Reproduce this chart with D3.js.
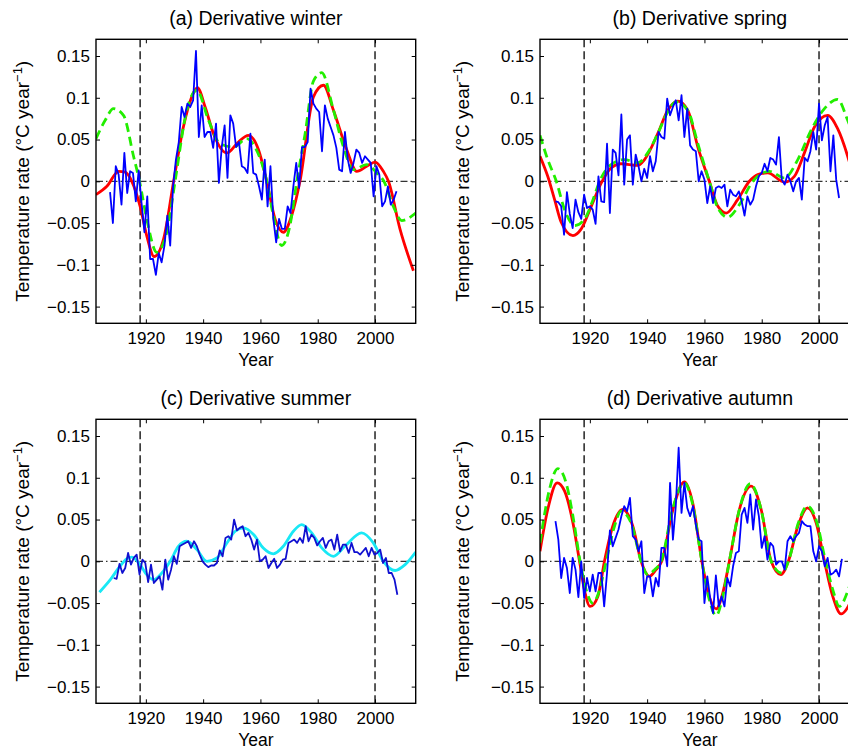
<!DOCTYPE html>
<html>
<head>
<meta charset="utf-8">
<script src="https://cdn.jsdelivr.net/npm/d3@7"></script>
<style>
  body { margin: 0; background: #fff; }
  svg { display: block; font-family: Helvetica, Arial, "Liberation Sans", sans-serif; }
</style>
</head>
<body>
<svg id="chart"></svg>
<script>
// ---- data ----
var xTicks = [1920, 1940, 1960, 1980, 2000];
var yTicks = [-0.15, -0.1, -0.05, 0, 0.05, 0.1, 0.15];
var markYears = [1918, 2000];

// (a) winter
var winterStart = 1907.5;
var winterObs = [
  -0.013, -0.050, 0.018, 0.008, -0.028, 0.034, -0.014, 0.012, 0.010, -0.024,
  0.013, -0.026, -0.061, -0.018, -0.093, -0.093, -0.112, -0.086, -0.097, -0.077,
  -0.041, -0.077, -0.006, 0.026, 0.047, 0.089, 0.077, 0.093, 0.089, 0.097,
  0.156, 0.053, 0.091, 0.053, 0.059, 0.059, 0.040, 0.069, -0.002, 0.041,
  0.067, 0.004, 0.079, 0.069, 0.041, 0.047, 0.018, 0.016, 0.010, 0.057,
  0.010, 0.008, -0.006, -0.022, 0.026, -0.030, 0.018, -0.045, -0.073, -0.045,
  -0.057, -0.057, -0.030, -0.038, -0.006, 0.022, -0.008, 0.041, 0.041, 0.047,
  0.111, 0.093, 0.087, 0.083, 0.036, 0.091, 0.075, 0.065, 0.055, 0.040,
  0.014, 0.012, 0.059, 0.026, 0.010, 0.022, 0.038, 0.034, 0.022, 0.030,
  0.026, 0.022, -0.018, 0.018, 0.008, -0.030, -0.024, -0.006, -0.028, -0.022, -0.012
];
var winterRedYear = [1902.6, 1906.4, 1910.5, 1912.8, 1915.1, 1918.0, 1920.3, 1922.9, 1926.2, 1929.7,
  1933.1, 1936.0, 1938.0, 1940.7, 1943.6, 1948.3, 1952.3, 1955.8, 1959.3, 1962.2,
  1965.1, 1968.0, 1970.9, 1973.8, 1978.5, 1982.0, 1985.5, 1990.1, 1993.6, 1997.1,
  2000.0, 2002.9, 2004.7, 2008.7, 2013.4];
var winterRedRate = [-0.016, -0.006, 0.012, 0.011, 0.000, -0.030, -0.065, -0.090, -0.069, 0.000,
  0.065, 0.101, 0.112, 0.089, 0.057, 0.034, 0.047, 0.055, 0.038, 0.000,
  -0.045, -0.061, -0.041, 0.000, 0.101, 0.115, 0.085, 0.038, 0.012, 0.018,
  0.023, 0.012, 0.000, -0.057, -0.107];
var winterGreenYear = [1902.6, 1905.8, 1908.7, 1912.2, 1915.7, 1917.8, 1920.3, 1923.8, 1927.3, 1930.2,
  1934.3, 1937.8, 1941.9, 1945.9, 1950.6, 1955.2, 1958.1, 1962.2, 1964.5, 1967.4,
  1970.3, 1972.7, 1975.6, 1978.5, 1981.4, 1985.5, 1989.0, 1992.4, 1997.1, 2000.6,
  2003.1, 2006.4, 2009.3, 2014.2];
var winterGreenRate = [0.051, 0.073, 0.087, 0.079, 0.030, 0.000, -0.045, -0.085, -0.061, 0.000,
  0.085, 0.109, 0.073, 0.045, 0.041, 0.051, 0.041, 0.000, -0.041, -0.077,
  -0.053, 0.000, 0.057, 0.120, 0.130, 0.085, 0.041, 0.014, 0.020, 0.010,
  0.000, -0.030, -0.047, -0.038];

// (b) spring
var springStart = 1908;
var springObs = [
  -0.024, -0.025, -0.030, -0.064, -0.013, -0.039, -0.056, -0.022, -0.037, -0.045,
  -0.016, -0.032, -0.030, -0.034, -0.051, 0.006, -0.024, -0.025, 0.045, -0.038,
  0.038, 0.034, 0.007, 0.080, -0.004, 0.050, 0.055, -0.004, 0.032, 0.018,
  0.000, 0.015, 0.004, 0.030, 0.012, 0.024, 0.059, 0.053, 0.051, 0.099,
  0.079, 0.089, 0.097, 0.073, 0.103, 0.053, 0.087, 0.043, 0.038, 0.036,
  0.000, 0.012, 0.002, -0.026, -0.006, -0.026, -0.008, -0.006, -0.008, -0.004,
  -0.030, -0.010, -0.016, -0.018, -0.012, -0.024, -0.041, -0.018, -0.028, -0.022,
  -0.006, 0.006, 0.010, 0.021, 0.012, 0.028, 0.026, 0.020, 0.053, 0.002,
  -0.004, 0.008, 0.000, -0.012, 0.000, 0.004, -0.022, 0.028, 0.024, 0.036,
  0.059, 0.038, 0.093, 0.049, 0.067, 0.077, 0.012, 0.055, 0.002, -0.020
];
var springRedYear = [1902.6, 1905.3, 1907.7, 1910.0, 1914.1, 1917.0, 1920.5, 1924.0, 1927.4, 1930.9,
  1936.7, 1939.1, 1943.7, 1947.2, 1950.7, 1954.2, 1957.7, 1961.7, 1964.7, 1967.6,
  1971.6, 1975.7, 1978.6, 1982.1, 1987.9, 1991.4, 1994.9, 1998.4, 2003.0, 2006.5,
  2010.0, 2011.5];
var springRedRate = [0.030, 0.006, -0.022, -0.049, -0.065, -0.057, -0.030, -0.002, 0.016, 0.021,
  0.019, 0.026, 0.057, 0.085, 0.096, 0.085, 0.041, 0.000, -0.030, -0.038,
  -0.022, 0.000, 0.008, 0.010, -0.001, 0.006, 0.034, 0.065, 0.079, 0.063,
  0.030, 0.012];
var springGreenYear = [1902.6, 1905.3, 1908.3, 1911.2, 1914.7, 1918.2, 1921.1, 1923.4, 1927.4, 1932.1,
  1936.7, 1940.2, 1943.7, 1947.2, 1950.1, 1954.2, 1957.7, 1961.7, 1964.7, 1968.1,
  1972.2, 1976.9, 1982.7, 1987.9, 1992.6, 1997.2, 2001.9, 2006.5, 2010.0, 2011.5];
var springGreenRate = [0.055, 0.026, 0.000, -0.034, -0.053, -0.045, -0.022, 0.000, 0.020, 0.026,
  0.022, 0.034, 0.057, 0.083, 0.095, 0.085, 0.045, 0.000, -0.032, -0.043,
  -0.028, 0.000, 0.012, 0.004, 0.026, 0.061, 0.087, 0.098, 0.073, 0.060];

// (c) summer
var summerStart = 1908.8;
var summerObs = [
  -0.020, -0.021, -0.003, -0.014, -0.008, 0.010, -0.004, 0.004, 0.008, -0.016,
  0.002, -0.002, -0.025, -0.004, -0.026, -0.022, -0.018, -0.034, 0.002, -0.022,
  -0.010, 0.006, -0.003, 0.018, 0.020, 0.022, 0.024, 0.016, 0.024, 0.018,
  0.008, 0.000, -0.004, -0.007, -0.005, -0.005, -0.002, 0.013, 0.006, 0.028,
  0.030, 0.026, 0.050, 0.037, 0.040, 0.042, 0.030, 0.034, 0.026, 0.014,
  0.026, 0.000, 0.002, 0.006, -0.008, -0.002, 0.003, -0.008, -0.004, 0.002,
  0.003, 0.022, 0.024, 0.026, 0.022, 0.028, 0.022, 0.042, 0.024, 0.032,
  0.028, 0.019, 0.024, 0.028, 0.016, 0.024, 0.026, 0.014, 0.032, 0.012,
  0.020, 0.020, 0.010, 0.022, 0.011, 0.011, 0.008, 0.012, 0.016, 0.006,
  0.016, 0.008, 0.010, 0.014, -0.002, 0.004, -0.014, -0.014, -0.022, -0.040
];
var summerCyanYear = [1903.8, 1907.6, 1910.5, 1913.4, 1915.1, 1918.0, 1920.3, 1922.7, 1925.6, 1928.5,
  1931.4, 1934.3, 1937.8, 1941.3, 1944.8, 1948.3, 1951.2, 1954.1, 1957.6, 1961.0,
  1964.5, 1968.0, 1971.5, 1974.4, 1977.9, 1981.4, 1985.5, 1989.5, 1995.3, 1999.4,
  2002.9, 2007.0, 2010.5, 2014.2];
var summerCyanRate = [-0.037, -0.022, -0.008, 0.003, 0.005, -0.004, -0.016, -0.022, -0.014, 0.000,
  0.018, 0.024, 0.014, 0.000, 0.004, 0.022, 0.036, 0.040, 0.032, 0.016,
  0.009, 0.018, 0.036, 0.044, 0.034, 0.016, 0.006, 0.018, 0.034, 0.022,
  0.000, -0.011, -0.004, 0.011];

// (d) autumn
var autumnStart = 1908;
var autumnObs = [
  0.048, 0.026, -0.020, 0.004, -0.008, -0.038, 0.004, -0.010, -0.043, 0.000,
  -0.044, -0.020, -0.036, -0.016, -0.036, -0.014, -0.014, -0.054, -0.014, 0.037,
  0.018, 0.028, 0.038, 0.054, 0.066, 0.060, 0.076, 0.030, 0.026, 0.012,
  0.024, -0.038, -0.018, -0.018, -0.042, -0.020, -0.030, 0.016, 0.016, -0.006,
  0.094, 0.026, 0.066, 0.136, 0.058, 0.094, 0.064, 0.054, 0.066, 0.044,
  0.026, 0.024, -0.050, -0.018, -0.044, -0.062, -0.017, -0.054, -0.042, -0.054,
  -0.020, -0.030, -0.006, 0.010, 0.012, 0.056, 0.064, 0.046, 0.080, 0.038,
  0.074, 0.054, 0.016, 0.030, 0.002, 0.022, 0.018, -0.004, 0.000, 0.000,
  -0.010, 0.024, 0.030, 0.024, 0.030, 0.034, 0.048, 0.044, 0.042, 0.042,
  0.012, 0.000, 0.018, 0.012, -0.006, 0.004, -0.016, -0.014, -0.010, -0.018, 0.003
];
var autumnRedYear = [1902.6, 1905.3, 1908.6, 1911.2, 1914.1, 1916.4, 1918.1, 1920.1, 1922.8, 1925.1,
  1928.0, 1931.5, 1935.0, 1937.9, 1940.8, 1943.1, 1945.1, 1949.0, 1953.0, 1955.9,
  1959.1, 1961.7, 1964.1, 1966.4, 1968.7, 1972.2, 1976.3, 1979.8, 1983.3, 1986.7,
  1989.3, 1992.6, 1996.0, 1999.0, 2001.9, 2004.8, 2007.7, 2010.2, 2012.0];
var autumnRedRate = [0.012, 0.062, 0.094, 0.084, 0.046, 0.000, -0.034, -0.054, -0.042, 0.000,
  0.042, 0.062, 0.042, 0.000, -0.018, -0.010, 0.000, 0.062, 0.095, 0.070,
  0.000, -0.042, -0.057, -0.038, 0.000, 0.062, 0.090, 0.062, 0.000, -0.016,
  0.000, 0.042, 0.064, 0.046, 0.000, -0.042, -0.063, -0.054, -0.040];
var autumnGreenYear = [1902.6, 1905.9, 1908.8, 1911.7, 1914.1, 1916.6, 1918.7, 1921.0, 1923.4, 1925.7,
  1928.6, 1930.9, 1934.4, 1937.9, 1940.2, 1942.6, 1944.9, 1949.0, 1953.0, 1955.9,
  1959.1, 1961.7, 1964.1, 1966.4, 1968.7, 1972.2, 1976.0, 1979.8, 1983.3, 1987.0,
  1989.7, 1992.6, 1996.0, 1999.3, 2001.9, 2004.8, 2007.1, 2010.2, 2012.0];
var autumnGreenRate = [0.022, 0.086, 0.111, 0.094, 0.054, 0.000, -0.034, -0.050, -0.034, 0.000,
  0.042, 0.060, 0.046, 0.000, -0.016, -0.010, 0.000, 0.064, 0.094, 0.068,
  0.000, -0.046, -0.065, -0.042, 0.000, 0.062, 0.093, 0.062, 0.000, -0.014,
  0.004, 0.044, 0.066, 0.046, 0.006, -0.034, -0.054, -0.034, -0.015];

// ---- layout ----
var svgwidth = 848;
var svgheight = 753;
var panelW = 319.7;
var panelH = 284;

var svg = d3.select('#chart').attr('width', svgwidth).attr('height', svgheight);

var zip = function(xs, ys) {
  return xs.map(function(x, i) { return [x, ys[i]]; });
};
var series = function(start, vals) {
  return vals.map(function(v, i) { return [start + i, v]; });
};

var panels = [
  { key: 'a', title: '(a) Derivative winter', left: 96, top: 39.3, labelOff: 67,
    lines: [
      { pts: zip(winterRedYear, winterRedRate), color: '#ff0000', width: 2.8, curve: true },
      { pts: zip(winterGreenYear, winterGreenRate), color: '#22ee00', width: 2.8, dash: '9,5', curve: true },
      { pts: series(winterStart, winterObs), color: '#0000ff', width: 1.8 }
    ] },
  { key: 'b', title: '(b) Derivative spring', left: 540, top: 39.3, labelOff: 71,
    lines: [
      { pts: zip(springRedYear, springRedRate), color: '#ff0000', width: 2.8, curve: true },
      { pts: zip(springGreenYear, springGreenRate), color: '#22ee00', width: 2.8, dash: '9,5', curve: true },
      { pts: series(springStart, springObs), color: '#0000ff', width: 1.8 }
    ] },
  { key: 'c', title: '(c) Derivative summer', left: 96, top: 419.3, labelOff: 67,
    lines: [
      { pts: zip(summerCyanYear, summerCyanRate), color: '#19e8f5', width: 2.8, curve: true },
      { pts: series(summerStart, summerObs), color: '#1010d0', width: 1.8 }
    ] },
  { key: 'd', title: '(d) Derivative autumn', left: 540, top: 419.3, labelOff: 71,
    lines: [
      { pts: zip(autumnRedYear, autumnRedRate), color: '#ff0000', width: 2.8, curve: true },
      { pts: zip(autumnGreenYear, autumnGreenRate), color: '#22ee00', width: 2.8, dash: '9,5', curve: true },
      { pts: series(autumnStart, autumnObs), color: '#0000ff', width: 1.8 }
    ] }
];

var fmt = function(d) {
  var s = d3.format('')(+d.toFixed(2));
  return s.replace('-', '\u2212');
};

panels.forEach(function(p) {
  var xScale = d3.scaleLinear().domain([1902.6, 2014.2]).range([p.left, p.left + panelW]);
  var yScale = d3.scaleLinear().domain([-0.17, 0.17]).range([p.top + panelH, p.top]);

  var g = svg.append('g').classed('panel-' + p.key, true);

  g.append('clipPath').attr('id', 'clip-' + p.key)
    .append('rect')
    .attr('x', p.left).attr('y', p.top)
    .attr('width', panelW).attr('height', panelH);

  var plot = g.append('g').attr('clip-path', 'url(#clip-' + p.key + ')');

  // zero line (dash-dot)
  plot.append('line')
    .attr('x1', xScale.range()[0]).attr('x2', xScale.range()[1])
    .attr('y1', yScale(0)).attr('y2', yScale(0))
    .attr('stroke', '#000').attr('stroke-width', 1)
    .attr('stroke-dasharray', '7,3,1.5,3');

  // vertical dashed markers
  plot.selectAll('line.mark').data(markYears).enter().append('line')
    .classed('mark', true)
    .attr('x1', function(d) { return xScale(d); })
    .attr('x2', function(d) { return xScale(d); })
    .attr('y1', yScale.range()[0]).attr('y2', yScale.range()[1])
    .attr('stroke', '#000').attr('stroke-width', 1.3)
    .attr('stroke-dasharray', '8,4');

  p.lines.forEach(function(l) {
    var line = d3.line()
      .x(function(d) { return xScale(d[0]); })
      .y(function(d) { return yScale(d[1]); })
      .curve(l.curve ? d3.curveMonotoneX : d3.curveLinear);
    plot.append('path')
      .datum(l.pts)
      .attr('d', line)
      .attr('fill', 'none')
      .attr('stroke', l.color)
      .attr('stroke-width', l.width)
      .attr('stroke-linejoin', 'round')
      .attr('stroke-dasharray', l.dash || null);
  });

  // axes, ticks inside on all four sides
  var xAxis = d3.axisBottom(xScale).tickValues(xTicks).tickSizeInner(-4).tickSizeOuter(0).tickPadding(9)
    .tickFormat(d3.format('d'));
  g.append('g').classed('xAxis', true)
    .attr('transform', 'translate(0,' + (p.top + panelH) + ')')
    .call(xAxis);
  var xTop = d3.axisTop(xScale).tickValues(xTicks).tickSizeInner(-4).tickSizeOuter(0).tickFormat('');
  g.append('g').attr('transform', 'translate(0,' + p.top + ')').call(xTop);

  var yAxis = d3.axisLeft(yScale).tickValues(yTicks).tickSizeInner(-4).tickSizeOuter(0).tickPadding(6)
    .tickFormat(fmt);
  g.append('g').classed('yAxis', true)
    .attr('transform', 'translate(' + p.left + ',0)')
    .call(yAxis);
  var yRight = d3.axisRight(yScale).tickValues(yTicks).tickSizeInner(-4).tickSizeOuter(0).tickFormat('');
  g.append('g').attr('transform', 'translate(' + (p.left + panelW) + ',0)').call(yRight);

  g.selectAll('.domain').remove();
  g.selectAll('.tick line').attr('stroke', '#000').attr('stroke-width', 1);
  g.selectAll('.tick text').attr('font-size', 17).attr('fill', '#000')
    .attr('font-family', 'Helvetica, Arial, "Liberation Sans", sans-serif');

  // frame
  g.append('rect')
    .attr('x', p.left).attr('y', p.top)
    .attr('width', panelW).attr('height', panelH)
    .attr('fill', 'none').attr('stroke', '#000').attr('stroke-width', 1.4);

  // title
  g.append('text')
    .attr('x', p.left + panelW / 2).attr('y', p.top - 14)
    .attr('text-anchor', 'middle').attr('font-size', 19.5)
    .text(p.title);

  // x label
  g.append('text')
    .attr('x', p.left + panelW / 2).attr('y', p.top + panelH + 43)
    .attr('text-anchor', 'middle').attr('font-size', 17.5)
    .text('Year');

  // y label
  var yl = g.append('text')
    .attr('transform', 'translate(' + (p.left - p.labelOff) + ',' + (p.top + panelH / 2) + ') rotate(-90)')
    .attr('text-anchor', 'middle').attr('font-size', 19);
  yl.append('tspan').text('Temperature rate (\u00B0C year');
  yl.append('tspan').attr('dy', -7).attr('font-size', 13).text('\u22121');
  yl.append('tspan').attr('dy', 7).text(')');
});
</script>
</body>
</html>
